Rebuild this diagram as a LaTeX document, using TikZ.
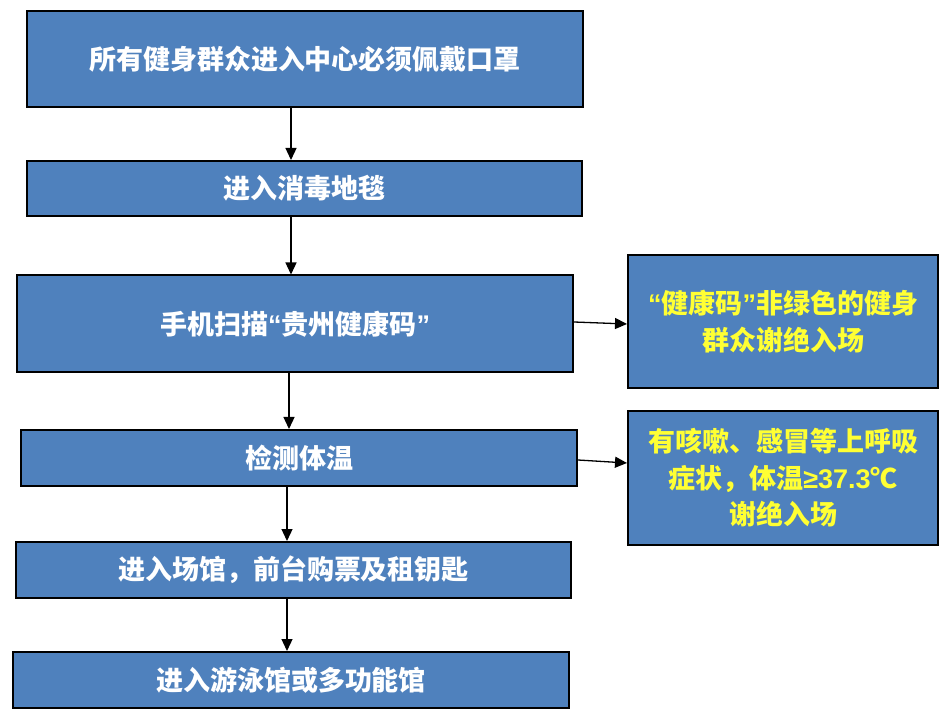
\documentclass[tikz,border=0pt]{standalone}
\usepackage{fontspec}
\newfontfamily\cjk{Noto Sans CJK SC}
\newfontfamily\lat{Liberation Sans}
\newcommand{\myLQ}{{\lat\bfseries “}}
\newcommand{\myRQ}{{\lat\bfseries ”}}
\usetikzlibrary{arrows.meta}
\definecolor{boxblue}{HTML}{4F81BD}
\definecolor{txtyellow}{HTML}{FFFF33}
\tikzset{
  box/.style={draw=black, line width=2pt, fill=boxblue, text=white, inner sep=0pt,
    font=\cjk\bfseries\fontsize{27}{36.5}\selectfont, align=center},
  warnbox/.style={box, text=txtyellow},
  arr/.style={draw=black, line width=1.3pt, -{Triangle[length=12pt,width=11pt]}}
}
\begin{document}
\begin{tikzpicture}[x=1pt,y=-1pt]
\useasboundingbox (0,0) rectangle (946,711);
\fill[white] (0,0) rectangle (946,711);
\node[box, minimum width=556pt, minimum height=96pt] (b1) at (305,59) {所有健身群众进入中心必须佩戴口罩};
\node[box, minimum width=555pt, minimum height=55pt] (b2) at (304.5,188.5) {进入消毒地毯};
\node[box, minimum width=556pt, minimum height=97pt] (b3) at (295,324) {手机扫描\myLQ 贵州健康码\myRQ};
\node[box, minimum width=556pt, minimum height=56pt] (b4) at (299,458) {检测体温};
\node[box, minimum width=555pt, minimum height=56pt] (b5) at (293.5,570) {进入场馆，前台购票及租钥匙};
\node[box, minimum width=556pt, minimum height=56pt] (b6) at (291,680) {进入游泳馆或多功能馆};
\node[warnbox, minimum width=310pt, minimum height=133pt] (b7) at (783,321.5) {\myLQ 健康码\myRQ 非绿色的健身\\群众谢绝入场};
\node[warnbox, minimum width=310pt, minimum height=134pt] (b8) at (783,478) {有咳嗽、感冒等上呼吸\\症状，体温{\lat\bfseries ≥37.3}℃\\谢绝入场};
\draw[arr] (b1.south -| 291,0) -- (b2.north -| 291,0);
\draw[arr] (b2.south -| 291,0) -- (b3.north -| 291,0);
\draw[arr] (b3.south -| 289,0) -- (b4.north -| 289,0);
\draw[arr] (b4.south -| 287,0) -- (b5.north -| 287,0);
\draw[arr] (b5.south -| 287,0) -- (b6.north -| 287,0);
\draw[arr] (b3.east |- 0,322) -- (b7.west |- 0,324);
\draw[arr] (b4.east |- 0,460) -- (b8.west |- 0,463);
\end{tikzpicture}
\end{document}
